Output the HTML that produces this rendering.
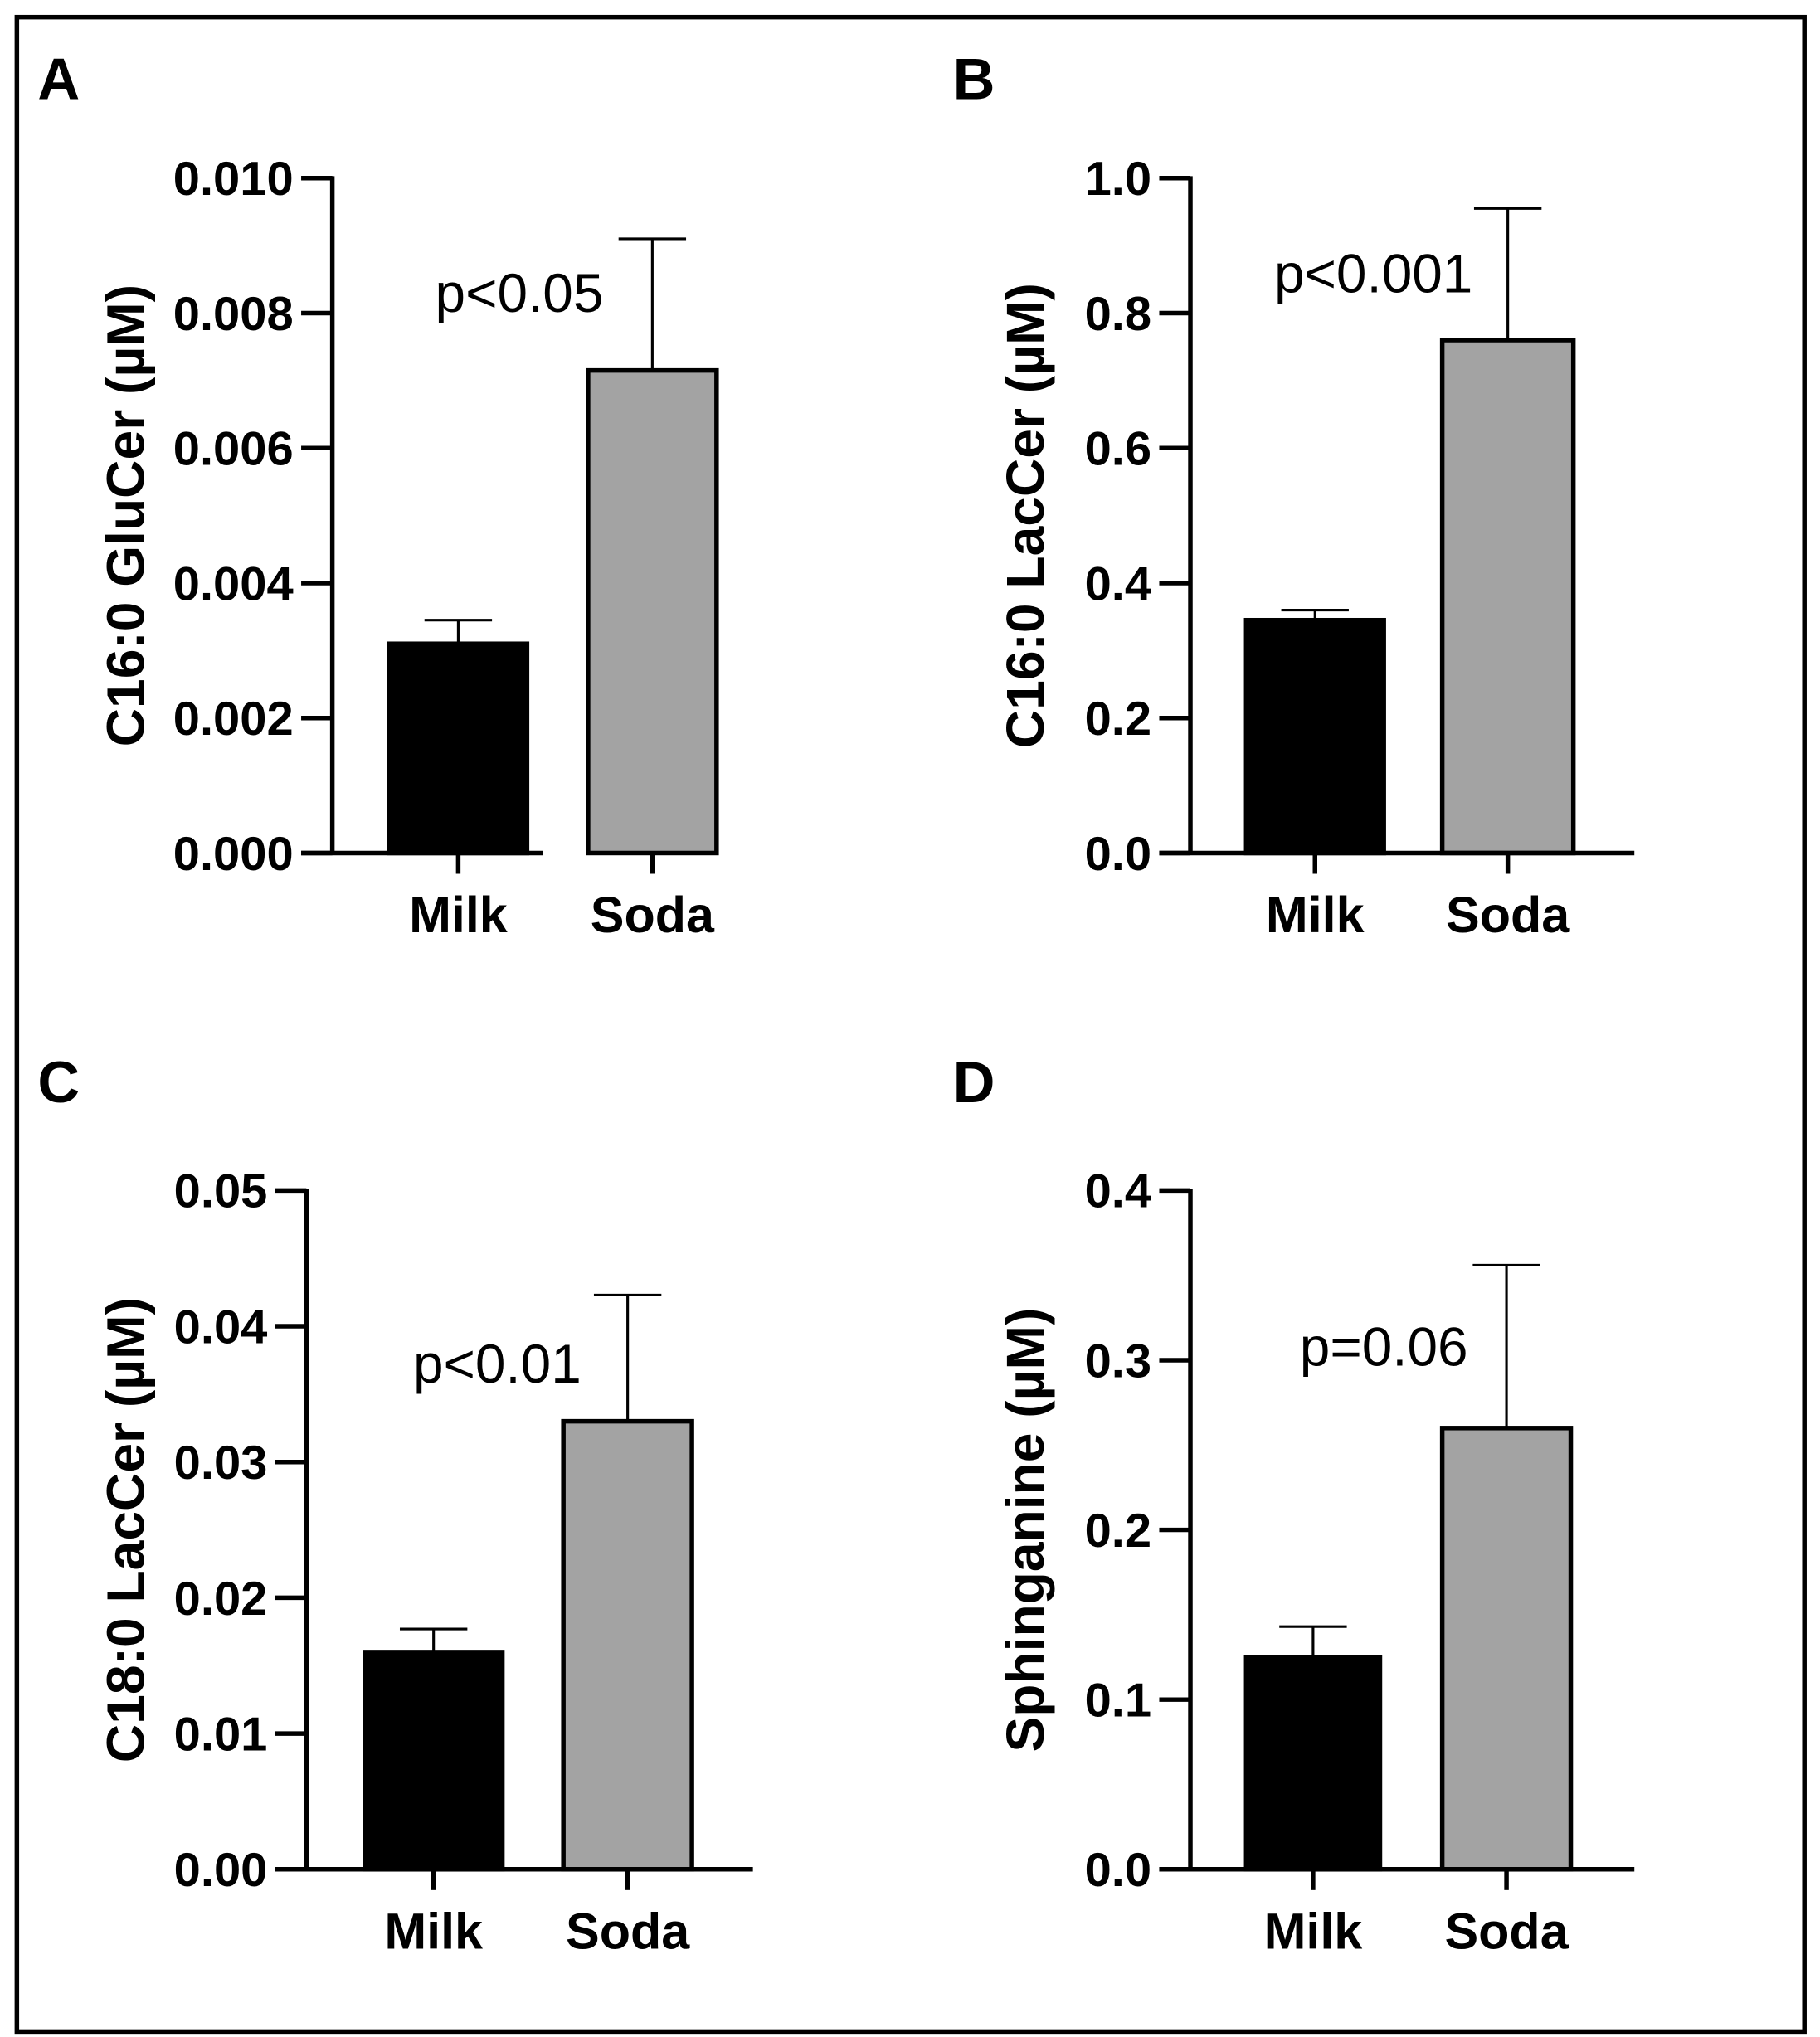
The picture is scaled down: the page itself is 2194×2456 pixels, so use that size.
<!DOCTYPE html>
<html><head><meta charset="utf-8"><style>
html,body{margin:0;padding:0;background:#fff;}
svg{display:block;font-family:"Liberation Sans",Arial,sans-serif;}
</style></head><body>
<svg id="fig" width="2194" height="2456" viewBox="0 0 1402 1569" xmlns="http://www.w3.org/2000/svg">
<rect x="13" y="13" width="1377" height="1552" fill="#fff" stroke="#000" stroke-width="3.5"/>
</svg>
<script>
const categories = ["Milk", "Soda"];
const panelLetters = ["A", "B", "C", "D"];
const yTitles = ["C16:0 GluCer (µM)", "C16:0 LacCer (µM)", "C18:0 LacCer (µM)", "Sphinganine (µM)"];
const pLabels = ["p<0.05", "p<0.001", "p<0.01", "p=0.06"];
const yMax = [0.010, 1.0, 0.05, 0.4];
const tickLabelsA = ["0.000","0.002","0.004","0.006","0.008","0.010"];
const tickLabelsB = ["0.0","0.2","0.4","0.6","0.8","1.0"];
const tickLabelsC = ["0.00","0.01","0.02","0.03","0.04","0.05"];
const tickLabelsD = ["0.0","0.1","0.2","0.3","0.4"];
const meansA = [0.0031, 0.00715];
const errA = [0.00345, 0.0091];
const meansB = [0.345, 0.76];
const errB = [0.36, 0.955];
const meansC = [0.016, 0.033];
const errC = [0.0177, 0.0423];
const meansD = [0.125, 0.26];
const errD = [0.143, 0.356];

const NS = "http://www.w3.org/2000/svg";
const svg = document.getElementById("fig");
function mk(tag, attrs, parent) {
  const e = document.createElementNS(NS, tag);
  for (const k in attrs) e.setAttribute(k, attrs[k]);
  (parent || svg).appendChild(e);
  return e;
}
const panels = [
  {ax:256, top:137, bot:657, xend:418, bars:[[300,406],[453,552]], p:[400,240], lx:29, ly:76, tx:97, ticks:tickLabelsA, m:meansA, e:errA},
  {ax:917, top:137, bot:657, xend:1259, bars:[[960,1066],[1111,1212]], p:[1058,225], lx:734, ly:76, tx:790, ticks:tickLabelsB, m:meansB, e:errB},
  {ax:236, top:917, bot:1440, xend:580, bars:[[281,387],[434,533]], p:[383,1065], lx:29, ly:849, tx:97, ticks:tickLabelsC, m:meansC, e:errC},
  {ax:917, top:917, bot:1440, xend:1259, bars:[[960,1063],[1111,1210]], p:[1066,1052], lx:734, ly:849, tx:790, ticks:tickLabelsD, m:meansD, e:errD}
];
panels.forEach((P, i) => {
  const g = mk("g", {});
  
  
  const y = v => P.bot - (v / yMax[i]) * (P.bot - P.top);
  const L = mk("text", {x:P.lx, y:P.ly, "font-size":45, "font-weight":"bold"}, g);
  L.textContent = panelLetters[i];
  
  
  P.bars.forEach((b, j) => {
    const cx = (b[0] + b[1]) / 2;
    const eb = mk("g", {}, g);
    
    
    mk("line", {x1:cx, x2:cx, y1:y(P.m[j]), y2:y(P.e[j]), stroke:"#000", "stroke-width":2}, eb);
    mk("line", {x1:cx-26, x2:cx+26, y1:y(P.e[j]), y2:y(P.e[j]), stroke:"#000", "stroke-width":2}, eb);
    const r = mk("rect", {x:b[0], y:y(P.m[j]), width:b[1]-b[0], height:P.bot-y(P.m[j]), fill:j?"#a3a3a3":"#000", stroke:"#000", "stroke-width":3.5}, g);
    
    
    mk("line", {x1:cx, x2:cx, y1:P.bot, y2:P.bot+16, stroke:"#000", "stroke-width":3.5}, g);
    const t = mk("text", {x:cx, y:P.bot+61, "font-size":39, "font-weight":"bold", "text-anchor":"middle"}, g);
    t.textContent = categories[j];
    
    
  });
  const ya = mk("line", {x1:P.ax, x2:P.ax, y1:P.top-1.5, y2:P.bot, stroke:"#000", "stroke-width":3.5}, g);
  
  
  const xa = mk("line", {x1:P.ax-24, x2:P.xend, y1:P.bot, y2:P.bot, stroke:"#000", "stroke-width":3.5}, g);
  
  
  const n = P.ticks.length - 1;
  P.ticks.forEach((lab, k) => {
    const ty = y(yMax[i] * k / n);
    mk("line", {x1:P.ax-24, x2:P.ax, y1:ty, y2:ty, stroke:"#000", "stroke-width":3.5}, g);
    const t = mk("text", {x:P.ax-30, y:ty+13, "font-size":37, "font-weight":"bold", "text-anchor":"end"}, g);
    t.textContent = lab;
    
    
  });
  const cy = (P.top + P.bot) / 2;
  const yt = mk("text", {x:P.tx, y:cy, "font-size":41, "font-weight":"bold", "text-anchor":"middle", transform:`rotate(-90 ${P.tx} ${cy}) translate(0 14)`}, g);
  yt.textContent = yTitles[i];
  
  
  const pt = mk("text", {x:P.p[0], y:P.p[1], "font-size":42, "text-anchor":"middle"}, g);
  pt.textContent = pLabels[i];
  
  
});
</script>
</body></html>
